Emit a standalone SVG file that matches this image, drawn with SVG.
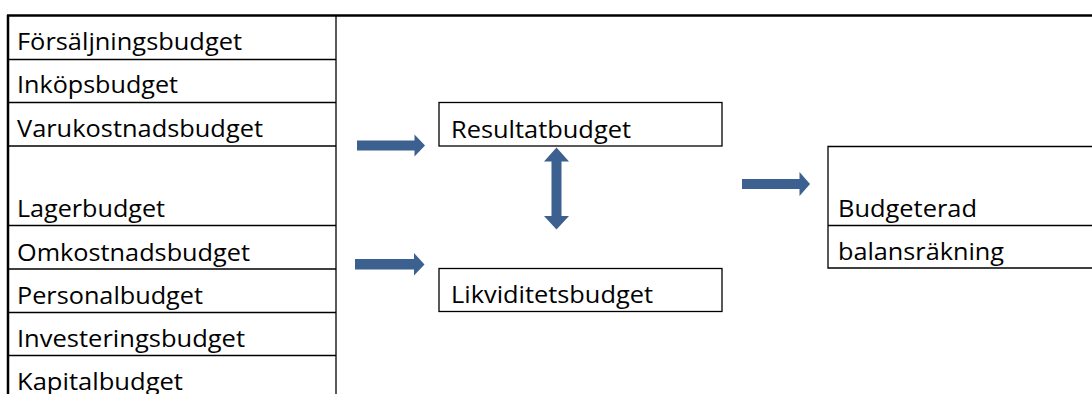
<svg xmlns="http://www.w3.org/2000/svg" width="1092" height="394" viewBox="0 0 1092 394">
<style>
.t{font-family:"Open Sans","Noto Sans","Liberation Sans",sans-serif;font-size:23px;fill:#000}
.ln{stroke:#000;stroke-width:1.3;fill:none}
.thick{stroke:#000;stroke-width:2.5;fill:none}
.box{stroke:#000;stroke-width:1.3;fill:#fff}
.arr{fill:#3c6190}
</style>
<rect width="1092" height="394" fill="#fff"/>
<g id="table">
<line class="thick" x1="7" y1="15.5" x2="1092" y2="15.5"/>
<line class="thick" x1="8" y1="15" x2="8" y2="394"/>
<line class="ln" x1="336" y1="15" x2="336" y2="394"/>
<line class="ln" x1="8" y1="59.5" x2="336" y2="59.5"/>
<line class="ln" x1="8" y1="102.5" x2="336" y2="102.5"/>
<line class="ln" x1="8" y1="146" x2="336" y2="146"/>
<line class="ln" x1="8" y1="225.5" x2="336" y2="225.5"/>
<line class="ln" x1="8" y1="269" x2="336" y2="269"/>
<line class="ln" x1="8" y1="312.5" x2="336" y2="312.5"/>
<line class="ln" x1="8" y1="355.5" x2="336" y2="355.5"/>
</g>
<g id="forsaljningsbudget"><text class="t" x="17" y="50" textLength="225" lengthAdjust="spacingAndGlyphs">Försäljningsbudget</text></g>
<g id="inkopsbudget"><text class="t" x="17" y="93" textLength="161" lengthAdjust="spacingAndGlyphs">Inköpsbudget</text></g>
<g id="varukostnadsbudget"><text class="t" x="17" y="137" textLength="246" lengthAdjust="spacingAndGlyphs">Varukostnadsbudget</text></g>
<g id="lagerbudget"><text class="t" x="17" y="216.5" textLength="148" lengthAdjust="spacingAndGlyphs">Lagerbudget</text></g>
<g id="omkostnadsbudget"><text class="t" x="17" y="260.5" textLength="233" lengthAdjust="spacingAndGlyphs">Omkostnadsbudget</text></g>
<g id="personalbudget"><text class="t" x="17" y="304" textLength="186" lengthAdjust="spacingAndGlyphs">Personalbudget</text></g>
<g id="investeringsbudget"><text class="t" x="17" y="347" textLength="228" lengthAdjust="spacingAndGlyphs">Investeringsbudget</text></g>
<g id="kapitalbudget"><text class="t" x="17" y="389.5" textLength="166" lengthAdjust="spacingAndGlyphs">Kapitalbudget</text></g>
<g id="resultatbudget">
<rect class="box" x="439" y="102.5" width="283" height="43.5"/>
<text class="t" x="451" y="138" textLength="180" lengthAdjust="spacingAndGlyphs">Resultatbudget</text>
</g>
<g id="likviditetsbudget">
<rect class="box" x="439" y="268.5" width="283" height="43"/>
<text class="t" x="451" y="303" textLength="202" lengthAdjust="spacingAndGlyphs">Likviditetsbudget</text>
</g>
<g id="budgeterad-balansrakning">
<path class="ln" d="M1093 146.5H828V268H1093M828 225.5H1093"/>
<text class="t" x="838" y="217" textLength="139" lengthAdjust="spacingAndGlyphs">Budgeterad</text>
<text class="t" x="838" y="260" textLength="166" lengthAdjust="spacingAndGlyphs">balansräkning</text>
</g>
<g id="connectors">
<path class="arr" d="M357 140.5H414.5V134.5L425 145.5L414.5 156.5V150.5H357Z"/>
<path class="arr" d="M355 259H414V253L424.5 264.5L414 275.5V269.5H355Z"/>
<path class="arr" d="M742 179H799.5V172L810 184L799.5 196V189H742Z"/>
<path class="arr" d="M556.5 147.5L569 161.5H561.5V216H569L556.5 229.5L544 216H551.5V161.5H544Z"/>
</g>
</svg>
